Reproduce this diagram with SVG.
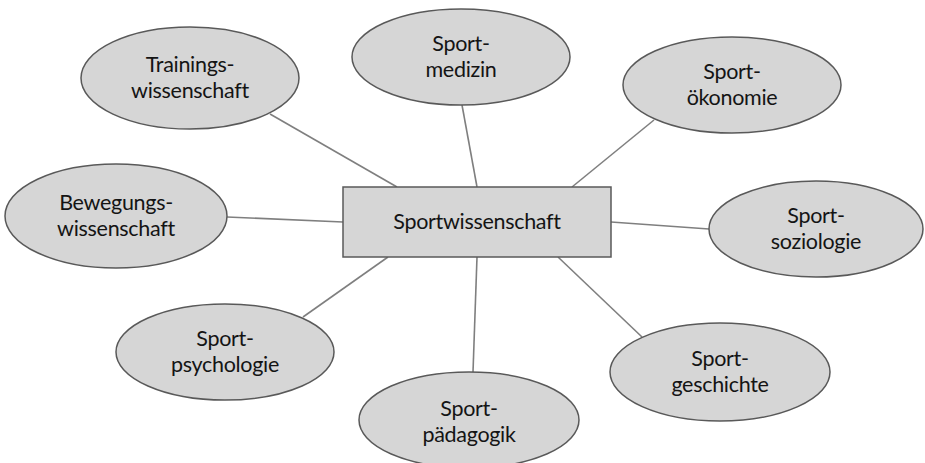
<svg xmlns="http://www.w3.org/2000/svg" width="925" height="463" viewBox="0 0 925 463">
<style>
.n{fill:#d6d6d6;stroke:#595959;stroke-width:1.5}
.t{font-family:Lato,"Open Sans","Liberation Sans",sans-serif;font-size:21.5px;letter-spacing:-0.3px;fill:#141414;text-anchor:middle}
.c line{stroke:#7f7f7f;stroke-width:1.6}
</style>
<rect width="925" height="463" fill="#fff"/>
<g class="c" id="connectors">
<line x1="270" y1="114" x2="397" y2="187"/>
<line x1="462" y1="105" x2="477" y2="187"/>
<line x1="654" y1="120" x2="572" y2="187"/>
<line x1="227" y1="217" x2="343" y2="222"/>
<line x1="611" y1="222" x2="709" y2="229"/>
<line x1="303" y1="317" x2="388" y2="257"/>
<line x1="477" y1="257" x2="473" y2="372"/>
<line x1="558" y1="257" x2="642" y2="337"/>
</g>
<g id="center"><rect class="n" x="343" y="187" width="268" height="70"/><text class="t" x="477" y="229">Sportwissenschaft</text></g>
<g id="training"><ellipse class="n" cx="190" cy="78" rx="109" ry="51"/><text class="t" x="190" y="72">Trainings-</text><text class="t" x="190" y="98">wissenschaft</text></g>
<g id="medizin"><ellipse class="n" cx="461" cy="57" rx="109" ry="48"/><text class="t" x="461" y="51">Sport-</text><text class="t" x="461" y="77">medizin</text></g>
<g id="oekonomie"><ellipse class="n" cx="732" cy="85" rx="109" ry="48"/><text class="t" x="732" y="79">Sport-</text><text class="t" x="732" y="105">ökonomie</text></g>
<g id="bewegung"><ellipse class="n" cx="116" cy="216" rx="111" ry="52"/><text class="t" x="116" y="210">Bewegungs-</text><text class="t" x="116" y="236">wissenschaft</text></g>
<g id="soziologie"><ellipse class="n" cx="816" cy="229" rx="107" ry="48"/><text class="t" x="816" y="223">Sport-</text><text class="t" x="816" y="249">soziologie</text></g>
<g id="psychologie"><ellipse class="n" cx="225" cy="352" rx="109" ry="48"/><text class="t" x="225" y="346">Sport-</text><text class="t" x="225" y="372">psychologie</text></g>
<g id="paedagogik"><ellipse class="n" cx="469" cy="420" rx="110" ry="48"/><text class="t" x="469" y="416">Sport-</text><text class="t" x="469" y="442">pädagogik</text></g>
<g id="geschichte"><ellipse class="n" cx="720" cy="372" rx="110" ry="49"/><text class="t" x="720" y="366">Sport-</text><text class="t" x="720" y="392">geschichte</text></g>
</svg>
